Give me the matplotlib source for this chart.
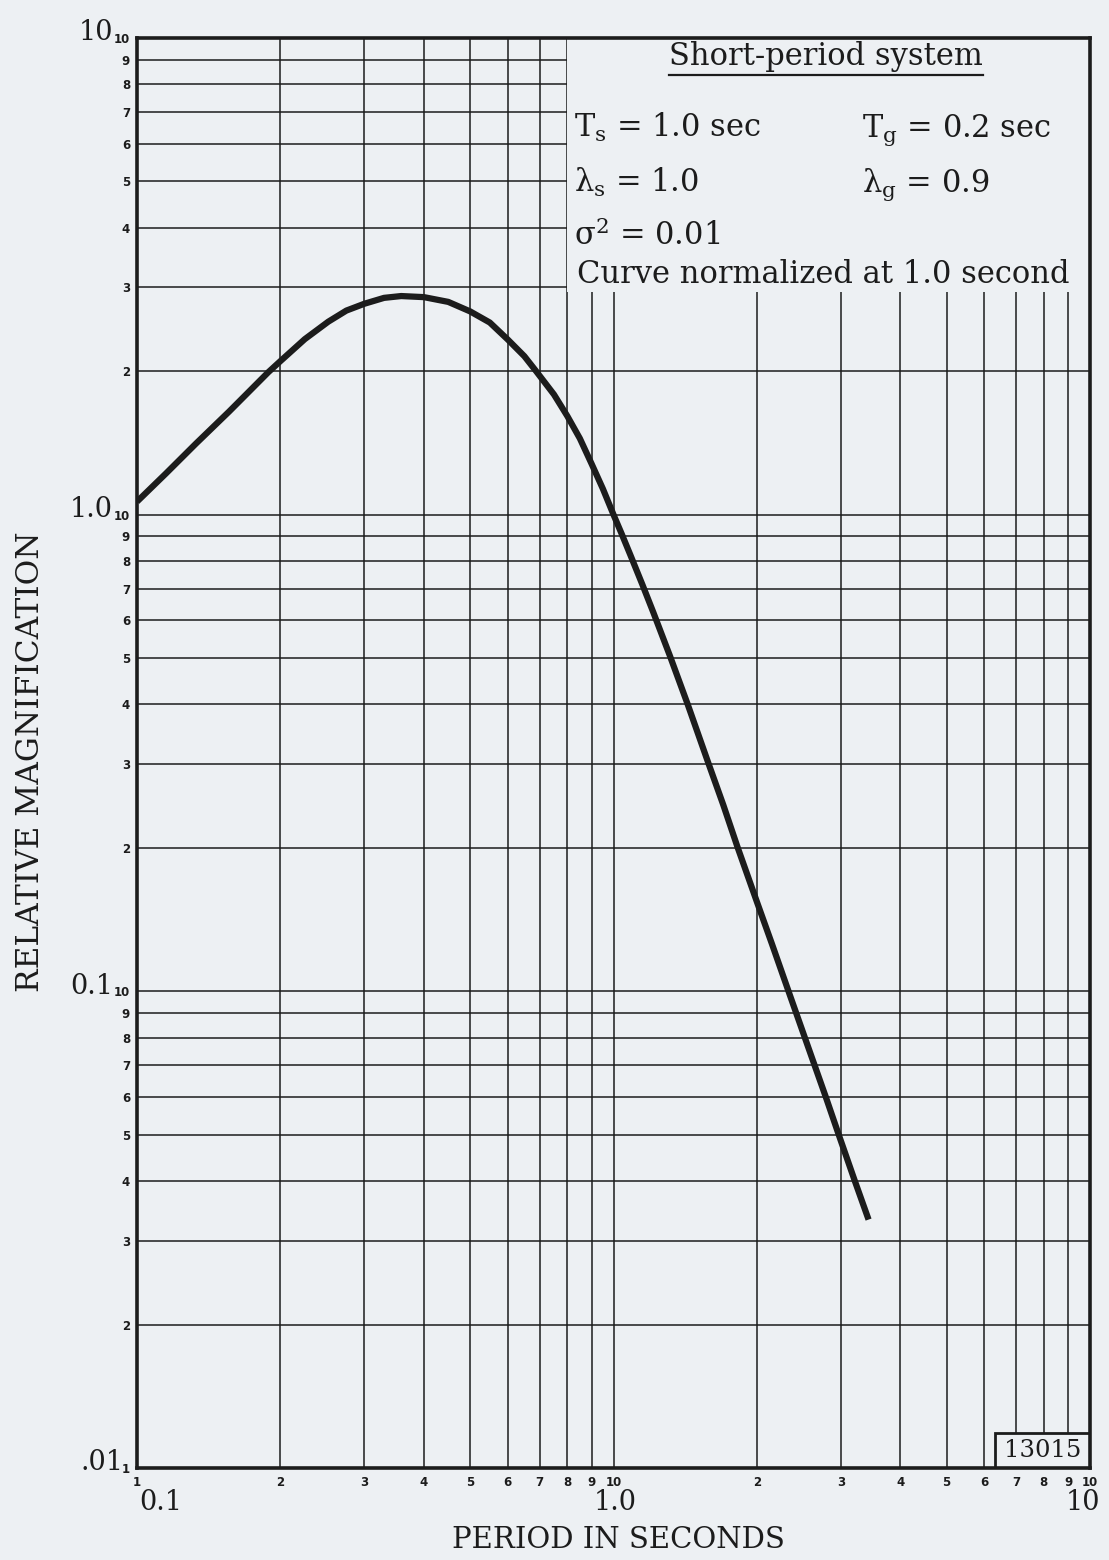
import matplotlib
matplotlib.use("Agg")
import matplotlib.pyplot as plt
from matplotlib.patches import Rectangle
from matplotlib.transforms import blended_transform_factory, offset_copy

# ---------------- data ----------------
period = [0.10, 0.115, 0.133, 0.156, 0.17, 0.1886, 0.20, 0.225, 0.252, 0.275,
          0.30, 0.33, 0.3585, 0.40, 0.45, 0.50, 0.55, 0.60, 0.65, 0.688,
          0.75, 0.80, 0.85, 0.90, 0.95, 1.00, 1.04, 1.085, 1.15, 1.212,
          1.314, 1.43, 1.58, 1.70, 1.82, 2.00, 2.15, 2.33, 2.55, 2.79,
          2.97, 3.21, 3.43]
magnification = [1.065, 1.22, 1.41, 1.645, 1.793, 1.99, 2.10, 2.335, 2.54, 2.68,
                 2.77, 2.85, 2.875, 2.86, 2.795, 2.67, 2.53, 2.33, 2.15, 2.0,
                 1.787, 1.61, 1.445, 1.277, 1.133, 1.0, 0.912, 0.823, 0.713, 0.624,
                 0.505, 0.401, 0.302, 0.246, 0.201, 0.154, 0.1258, 0.1, 0.0774, 0.06,
                 0.05, 0.04, 0.0332]

x_ticks = [0.1, 0.2, 0.3, 0.4, 0.5, 0.6, 0.7, 0.8, 0.9, 1.0,
           2, 3, 4, 5, 6, 7, 8, 9, 10]
x_tick_labels = ["1", "2", "3", "4", "5", "6", "7", "8", "9", "10",
                 "2", "3", "4", "5", "6", "7", "8", "9", "10"]
x_decades = [0.1, 1.0, 10]
x_decade_labels = ["0.1", "1.0", "10"]

y_ticks = [0.01, 0.02, 0.03, 0.04, 0.05, 0.06, 0.07, 0.08, 0.09, 0.1,
           0.2, 0.3, 0.4, 0.5, 0.6, 0.7, 0.8, 0.9, 1.0,
           2, 3, 4, 5, 6, 7, 8, 9, 10]
y_tick_labels = ["1", "2", "3", "4", "5", "6", "7", "8", "9", "10",
                 "2", "3", "4", "5", "6", "7", "8", "9", "10",
                 "2", "3", "4", "5", "6", "7", "8", "9", "10"]
y_decades = [10, 1.0, 0.1, 0.01]
y_decade_labels = ["10", "1.0", "0.1", ".01"]

title_text = "Short-period system"
param_left = [r"T$_{\mathrm{s}}$ = 1.0 sec", r"λ$_{\mathrm{s}}$ = 1.0",
              r"σ$^{2}$ = 0.01"]
param_right = [r"T$_{\mathrm{g}}$ = 0.2 sec", r"λ$_{\mathrm{g}}$ = 0.9"]
note_text = "Curve normalized at 1.0 second"
plate_number = "13015"

# ---------------- style ----------------
BG = "#edf0f3"
INK = "#1c1c1c"
SERIF = "DejaVu Serif"
plt.rcParams["mathtext.fontset"] = "dejavuserif"
plt.rcParams["font.family"] = SERIF

fig = plt.figure(figsize=(11.09, 15.60), dpi=100, facecolor=BG)
W, H = 1109, 1560
ax = fig.add_axes([137 / W, 1 - 1468 / H, (1090 - 137) / W, (1468 - 38) / H])
ax.set_facecolor(BG)
ax.set_xscale("log")
ax.set_yscale("log")
ax.set_xlim(0.1, 10)
ax.set_ylim(0.01, 10)

ax.set_xticks(x_ticks, x_tick_labels)
ax.set_yticks(y_ticks, y_tick_labels)
ax.xaxis.set_minor_locator(matplotlib.ticker.NullLocator())
ax.yaxis.set_minor_locator(matplotlib.ticker.NullLocator())
ax.tick_params(axis="both", length=0, labelsize=8.5, colors=INK)
ax.tick_params(axis="x", pad=6)
ax.tick_params(axis="y", pad=5)
for lbl in ax.get_xticklabels() + ax.get_yticklabels():
    lbl.set_fontweight("bold")
    lbl.set_family("DejaVu Sans")
ax.set_axisbelow(True)
ax.grid(True, which="major", color=INK, lw=1.1)
for sp in ax.spines.values():
    sp.set_linewidth(2.6)
    sp.set_color(INK)
    sp.set_zorder(5)

# curve
ax.plot(period, magnification, color=INK, lw=4.5, solid_capstyle="butt",
        solid_joinstyle="round", zorder=4)

# legend panel (blank paper area covering the grid, upper right)
ax.add_patch(Rectangle((0.797, 2.93), 10 - 0.797, 10 - 2.93,
                       facecolor=BG, edgecolor="none", zorder=2))

# plate-number box
ax.add_patch(Rectangle((6.32, 0.01), 10 - 6.32, 0.01185 - 0.01,
                       facecolor=BG, edgecolor=INK, lw=2.0, zorder=3))
ax.text(10 ** ((0.8007 + 1.0) / 2), 10 ** ((-2 + -1.9263) / 2), plate_number,
        ha="center", va="center", fontsize=17.5, color=INK, zorder=6)

# decade labels (big) on y
ty = blended_transform_factory(ax.transAxes, ax.transData)
for v, lab in zip(y_decades, y_decade_labels):
    xoff = -0.025 if v != 0.01 else -0.014
    ax.text(xoff, v, lab, transform=offset_copy(ty, fig=fig, x=0, y=5, units="dots"),
            ha="right", va="center", fontsize=19.5, color=INK)

# decade labels (big) on x
tx = blended_transform_factory(ax.transData, ax.transAxes)
for v, lab, ha in zip(x_decades, x_decade_labels, ["left", "center", "right"]):
    ax.text(v, -0.024, lab,
            transform=offset_copy(tx, fig=fig, x=(10 if ha == "right" else 2), y=0, units="dots"),
            ha=ha, va="center", fontsize=19.5, color=INK)

# axis titles
ax.set_xlabel("PERIOD IN SECONDS", fontsize=21, color=INK)
ax.xaxis.set_label_coords(0.505, -0.0505)
ax.xaxis.label.set_va("center")
ax.set_ylabel("RELATIVE MAGNIFICATION", fontsize=22.5, color=INK)
ax.yaxis.set_label_coords(-0.112, 0.494)
ax.yaxis.label.set_va("center")

# legend panel texts
FS = 22
title = ax.text(0.723, 0.9811, title_text, transform=ax.transAxes, ha="center",
                va="baseline", fontsize=FS, color=INK, zorder=6)
for lab, yb in zip(param_left, [0.9308, 0.8923, 0.8552]):
    ax.text(0.4586, yb, lab, transform=ax.transAxes, ha="left", va="baseline",
            fontsize=FS, color=INK, zorder=6)
for lab, yb in zip(param_right, [0.9308, 0.8923]):
    ax.text(0.7608, yb, lab, transform=ax.transAxes, ha="left", va="baseline",
            fontsize=FS, color=INK, zorder=6)
ax.text(0.4617, 0.8287, note_text, transform=ax.transAxes, ha="left",
        va="baseline", fontsize=FS, color=INK, zorder=6)

# underline the panel title
fig.canvas.draw()
bb = title.get_window_extent().transformed(ax.transAxes.inverted())
ax.plot([bb.x0, bb.x1], [bb.y0 - 0.002, bb.y0 - 0.002], transform=ax.transAxes,
        color=INK, lw=1.6, zorder=6, clip_on=False)

fig.savefig("out.png", dpi=100, facecolor=BG)
